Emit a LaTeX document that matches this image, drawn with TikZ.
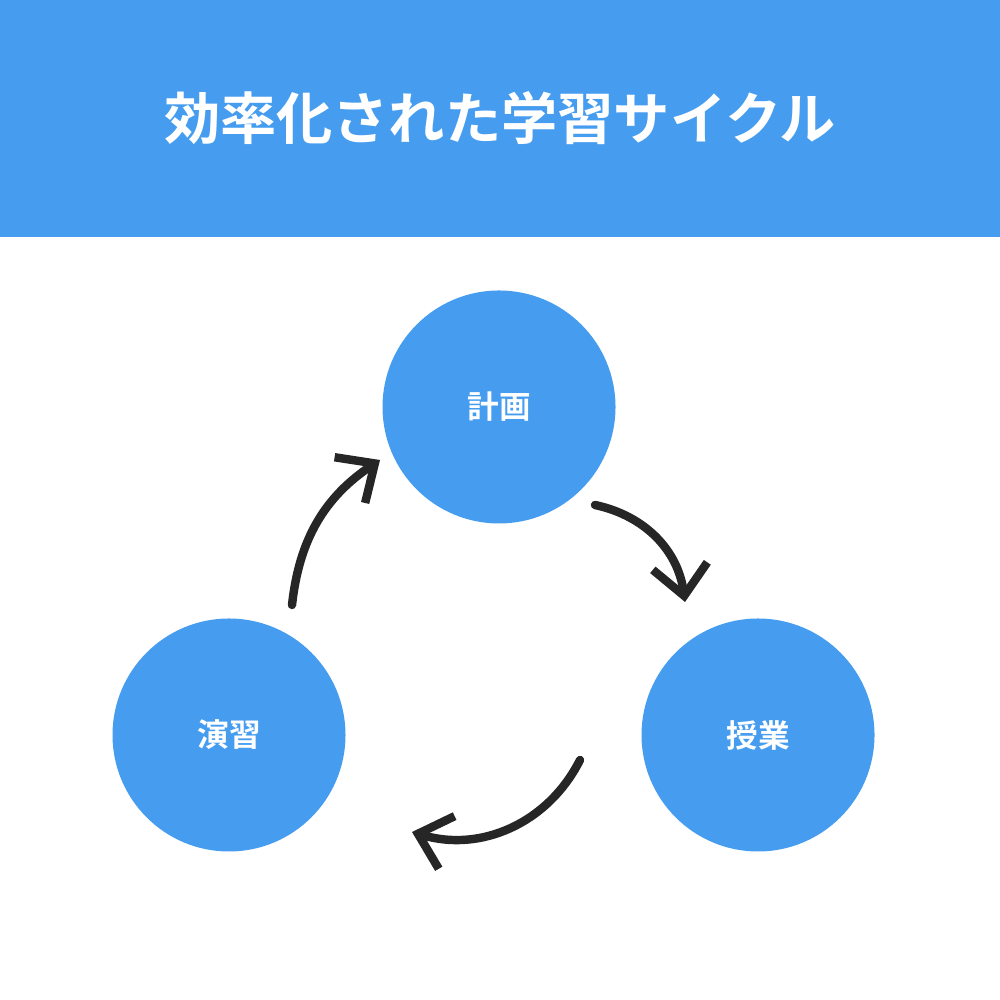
\documentclass[tikz,border=0pt]{standalone}
\usepackage{fontspec}
\newfontfamily\jpbold[BoldFont={Noto Sans CJK JP Bold}]{Noto Sans CJK JP Bold}
\usetikzlibrary{arrows.meta}
\definecolor{cycleblue}{HTML}{469DF0}
\definecolor{chalk}{HTML}{262626}
\tikzset{
  stage/.style={circle,fill=cycleblue,minimum size=2.33cm,inner sep=0pt,text=white,font=\jpbold\fontsize{9}{9}\selectfont},
  chalkarrow/.style={draw=chalk,line width=2.4pt,line cap=round,-{Straight Barb[length=3mm,width=5.5mm,line width=2.4pt]}}
}
\begin{document}
\begin{tikzpicture}
\useasboundingbox (0,0) rectangle (10,10);
\fill[cycleblue] (0,7.63) rectangle (10,10);
\node(title) at (5,8.82) {\textcolor{white}{\jpbold\fontsize{16}{16}\selectfont 効率化された学習サイクル}};
%
\node[stage](plan) at (4.99,5.93) {計画};
\node[stage](lesson) at (7.58,2.65) {授業};
\node[stage](practice) at (2.29,2.65) {演習};
%
\coordinate(a1) at (2.92,3.95);
\coordinate(a2) at (3.80,5.40);
\coordinate(b1) at (5.95,4.95);
\coordinate(b2) at (6.85,3.98);
\coordinate(c1) at (5.80,2.40);
\coordinate(c2) at (4.12,1.68);
\draw[chalkarrow](a1) to[bend left=25] (a2);
\draw[chalkarrow](b1) to[bend left=35] (b2);
\draw[chalkarrow](c1) to[bend left=40] (c2);
\end{tikzpicture}
\end{document}
